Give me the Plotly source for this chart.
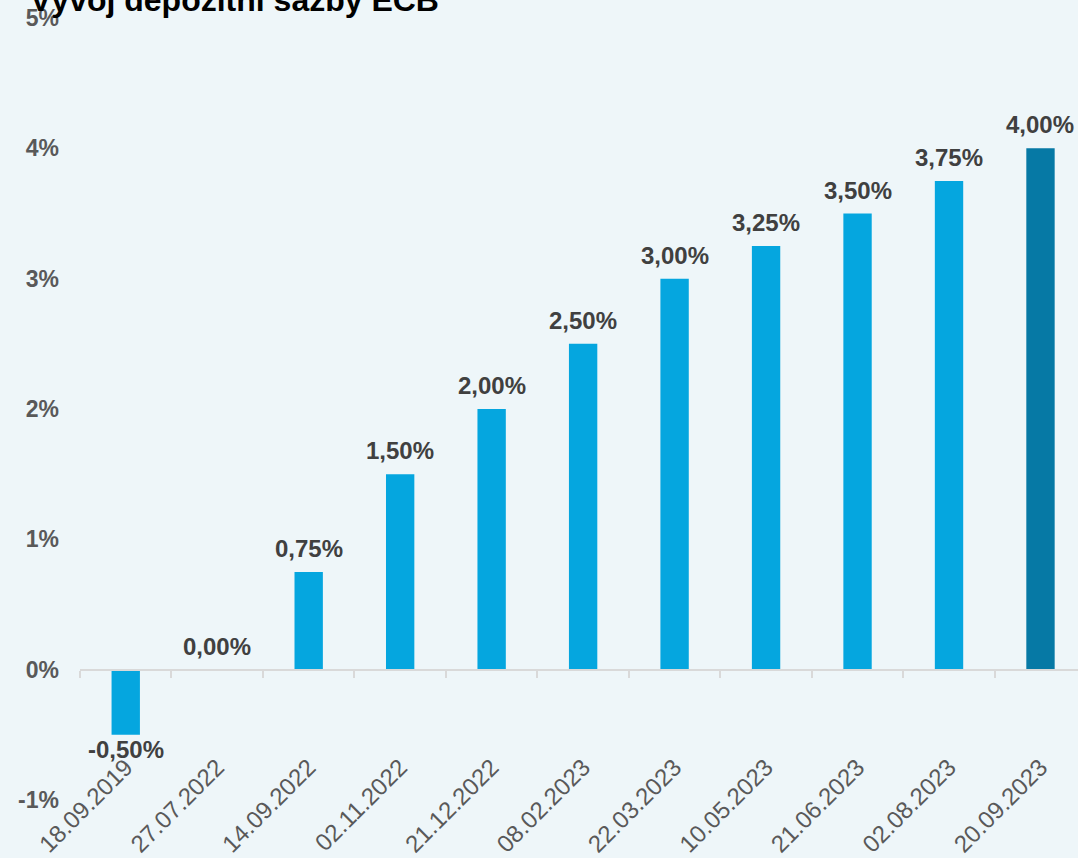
import plotly.graph_objects as go

title = "Vývoj depozitní sazby ECB"
dates = ["18.09.2019", "27.07.2022", "14.09.2022", "02.11.2022", "21.12.2022",
         "08.02.2023", "22.03.2023", "10.05.2023", "21.06.2023", "02.08.2023", "20.09.2023"]
rates = [-0.50, 0.00, 0.75, 1.50, 2.00, 2.50, 3.00, 3.25, 3.50, 3.75, 4.00]
y_ticks = [-1, 0, 1, 2, 3, 4, 5]

bar_color = "#05A6DF"
last_color = "#0679A5"
colors = [bar_color] * (len(rates) - 1) + [last_color]
labels = [f"{v:.2f}".replace(".", ",") + "%" for v in rates]

fig = go.Figure()
fig.add_trace(go.Bar(x=dates, y=rates, marker=dict(color=colors, line=dict(width=0)),
                     width=0.31, hoverinfo="skip"))

for d, v, t in zip(dates, rates, labels):
    fig.add_annotation(x=d, y=v, text=t, showarrow=False,
                       yanchor="bottom" if v >= 0 else "top",
                       yshift=8 if v >= 0 else 1,
                       font=dict(family="Liberation Sans", size=24, color="#404040", weight="bold"))

fig.update_layout(
    width=1078, height=858,
    margin=dict(l=80, r=0, t=18, b=58),
    paper_bgcolor="#EEF6F9", plot_bgcolor="#EEF6F9",
    showlegend=False,
    title=dict(text=f"<b>{title}</b>", x=30 / 1078, xref="container", xanchor="left",
               y=1.0, yref="container", yanchor="middle",
               font=dict(family="Liberation Sans", size=32, color="#000000")),
    xaxis=dict(type="category", range=[-0.5, 10.41], autorange=False,
               anchor="free", position=1 / 6,
               showline=True, linecolor="#D9D9D9", linewidth=2,
               ticks="outside", ticklen=7, tickcolor="#D9D9D9", tickwidth=2,
               tickson="boundaries", tickangle=-45, ticklabelstandoff=73,
               tickfont=dict(family="Liberation Sans", size=24, color="#595959"),
               showgrid=False, zeroline=False),
    yaxis=dict(range=[-1, 5], autorange=False, tickvals=y_ticks,
               ticktext=[f"{v}%" for v in y_ticks],
               showgrid=False, zeroline=False, showline=False, ticks="",
               ticklabelstandoff=20,
               tickfont=dict(family="Liberation Sans", size=23, color="#595959", weight="bold")),
)

fig.write_html("out.html", config={"displayModeBar": False},
               post_script="document.body.style.margin='0';document.body.style.overflow='hidden';")
